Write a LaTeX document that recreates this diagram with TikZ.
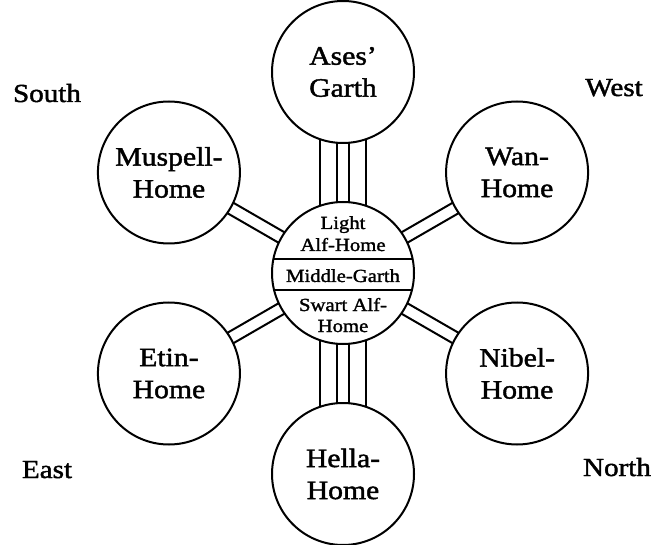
\documentclass[tikz,border=0pt]{standalone}
\usepackage{fontspec}
\setmainfont{Liberation Serif}[FakeStretch=1.12,FakeBold=1.6]
\usetikzlibrary{calc}
\begin{document}
\begin{tikzpicture}[x=1pt,y=1pt,
  world/.style={circle,draw,line width=2pt,minimum size=142pt,inner sep=0pt,
    align=center,font=\fontsize{26.5}{32}\selectfont},
  hub/.style={circle,draw,line width=2pt,minimum size=142pt,inner sep=0pt},
  inner/.style={anchor=base,inner sep=0pt,font=\fontsize{18.5}{22}\selectfont},
  compass/.style={anchor=base,inner sep=0pt,font=\fontsize{26}{30}\selectfont},
  rail/.style={line width=2pt},
  chord/.style={line width=2pt}]
\useasboundingbox (0,0) rectangle (658,544);
\node[hub] (mid) at (343,271) {};
\node[world] (ases)  at ($(mid)+(90:201)$)  {Ases'\\Garth};
\node[world] (wan)   at ($(mid)+(30:201)$)  {Wan-\\Home};
\node[world] (mus)   at ($(mid)+(150:201)$) {Muspell-\\Home};
\node[world] (etin)  at ($(mid)+(210:201)$) {Etin-\\Home};
\node[world] (nib)   at ($(mid)+(330:201)$) {Nibel-\\Home};
\node[world] (hella) at ($(mid)+(270:201)$) {Hella-\\Home};
% chords of the centre circle
\draw[chord] ($(mid)+(-69.6,14)$) -- ($(mid)+(69.6,14)$);
\draw[chord] ($(mid)+(-68.9,-17)$) -- ($(mid)+(68.9,-17)$);
% centre texts
\node[inner] (light) at ($(mid)+(0,44)$) {Light};
\node[inner] (alf)   at ($(mid)+(0,22)$) {Alf-Home};
\node[inner] (midg)  at ($(mid)+(0,-9)$) {Middle-Garth};
\node[inner] (swart) at ($(mid)+(0,-38)$) {Swart Alf-};
\node[inner] (home)  at ($(mid)+(0,-59)$) {Home};
% diagonal double rails
\foreach \n/\a in {wan/30,mus/150,etin/210,nib/330}{
  \foreach \d in {6,-6}{
    \draw[rail] ($(mid)+(\a:70.75)+(\a+90:\d)$) -- ($(\n)+(\a+180:70.75)+(\a+90:\d)$);
  }
}
% vertical quadruple rails
\foreach \n/\a in {ases/90,hella/270}{
  \foreach \d/\l in {6/70.75,-6/70.75,23/67.17,-23/67.17}{
    \draw[rail] ($(mid)+(\a:\l)+(\a+90:\d)$) -- ($(\n)+(\a+180:\l)+(\a+90:\d)$);
  }
}
% compass points
\node[compass] (south) at (47,442) {South};
\node[compass] (west)  at (614,448) {West};
\node[compass] (east)  at (47,66) {East};
\node[compass] (north) at (617,68) {North};
\end{tikzpicture}
\end{document}
